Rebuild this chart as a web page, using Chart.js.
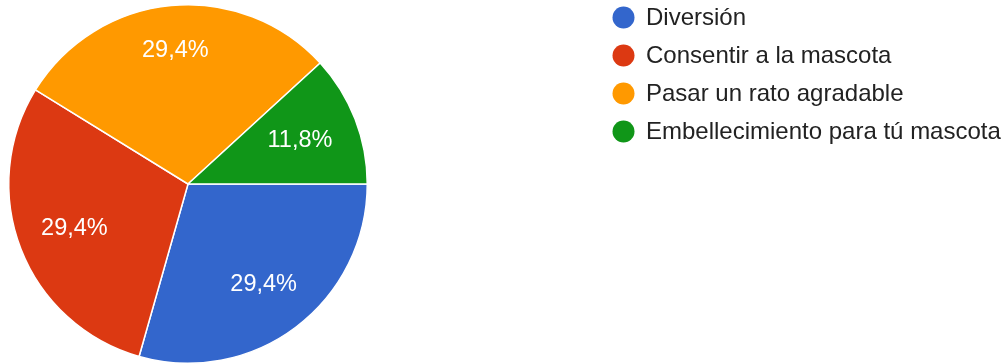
<!DOCTYPE html>
<html>
<head>
<meta charset="utf-8">
<script src="https://cdn.jsdelivr.net/npm/chart.js@4/dist/chart.umd.min.js"></script>
<style>
  html, body { margin: 0; padding: 0; background: #fff; }
  #wrap { width: 1007px; height: 364px; }
</style>
</head>
<body>
<div id="wrap"><canvas id="pie" width="1007" height="364"></canvas></div>
<script>
// Survey answers and their share of responses (%).
var categories = ['Diversión', 'Consentir a la mascota', 'Pasar un rato agradable', 'Embellecimiento para tú mascota'];
var shares = [29.4, 29.4, 29.4, 11.8];
var sliceColours = ['#3366cc', '#dc3912', '#ff9900', '#109618'];

var FONT = '"Liberation Sans", Arial, sans-serif';

/**
 * Writes the percentage inside each slice.
 */
var sliceLabelsPlugin = {
    id: 'sliceLabels',
    afterDatasetsDraw: function(chart, _args, options) {
        var ctx = chart.ctx;
        var meta = chart.getDatasetMeta(0);
        var values = chart.data.datasets[0].data;
        ctx.save();
        ctx.font = options.fontSize + 'px ' + FONT;
        ctx.fillStyle = '#ffffff';
        ctx.textAlign = 'center';
        ctx.textBaseline = 'middle';
        meta.data.forEach(function(arc, i) {
            var p = arc.getProps(['x', 'y', 'startAngle', 'endAngle', 'outerRadius'], true);
            var mid = (p.startAngle + p.endAngle) / 2;
            var r = p.outerRadius * options.radius[i];
            var text = values[i].toFixed(1).replace('.', ',') + '%';
            ctx.fillText(text, p.x + Math.cos(mid) * r, p.y + Math.sin(mid) * r);
        });
        ctx.restore();
    }
};

/**
 * Legend with round markers, listed top-down on the right.
 */
var sideLegendPlugin = {
    id: 'sideLegend',
    afterDraw: function(chart, _args, options) {
        var ctx = chart.ctx;
        var ds = chart.data.datasets[0];
        ctx.save();
        ctx.font = options.fontSize + 'px ' + FONT;
        ctx.textAlign = 'left';
        ctx.textBaseline = 'middle';
        chart.data.labels.forEach(function(label, i) {
            var y = options.top + i * options.rowHeight;
            ctx.fillStyle = ds.backgroundColor[i];
            ctx.beginPath();
            ctx.arc(options.left, y, options.dot, 0, Math.PI * 2);
            ctx.fill();
            ctx.fillStyle = '#222222';
            ctx.fillText(label, options.left + 22.5, y + 0.5);
        });
        ctx.restore();
    }
};

new Chart(document.getElementById('pie'), {
    type: 'pie',
    data: {
        labels: categories,
        datasets: [{
            data: shares,
            backgroundColor: sliceColours,
            borderColor: '#ffffff',
            borderWidth: 1.5
        }]
    },
    options: {
        responsive: false,
        animation: false,
        rotation: 90,
        layout: {
            padding: {left: 8, right: 639, top: 4, bottom: 0}
        },
        plugins: {
            legend: {display: false},
            tooltip: {enabled: false},
            sliceLabels: {fontSize: 23.5, radius: [0.7, 0.68, 0.75, 0.67]},
            sideLegend: {left: 623.5, top: 17.5, rowHeight: 38, dot: 11, fontSize: 24}
        }
    },
    plugins: [sliceLabelsPlugin, sideLegendPlugin]
});
</script>
</body>
</html>
